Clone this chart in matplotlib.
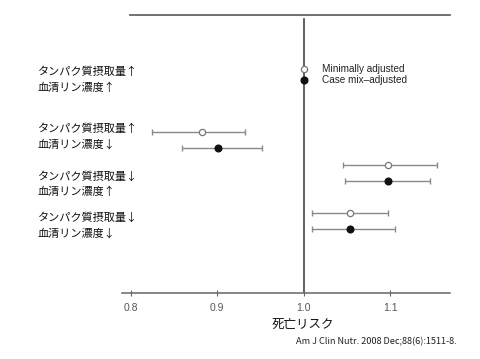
import matplotlib
matplotlib.use("Agg")
import matplotlib.pyplot as plt

plt.rcParams['font.family'] = ['Noto Sans CJK JP', 'DejaVu Sans']

groups = ["タンパク質摂取量↑\n血清リン濃度↑",
          "タンパク質摂取量↑\n血清リン濃度↓",
          "タンパク質摂取量↓\n血清リン濃度↑",
          "タンパク質摂取量↓\n血清リン濃度↓"]
# Minimally adjusted (open) : estimate, lower, upper
min_est = [1.0, 0.882, 1.097, 1.054]
min_lo = [None, 0.825, 1.045, 1.009]
min_hi = [None, 0.932, 1.154, 1.097]
# Case mix-adjusted (filled)
cm_est = [1.0, 0.901, 1.097, 1.054]
cm_lo = [None, 0.859, 1.048, 1.009]
cm_hi = [None, 0.952, 1.146, 1.106]
xticks = [0.8, 0.9, 1.0, 1.1]
xtick_labels = ["0.8", "0.9", "1.0", "1.1"]

# layout (vertical positions in axis units, 0 = top)
open_y = [54, 117, 150, 198]
fill_y = [65, 133, 166, 214]
label_y = [65, 122, 169, 210]

fig = plt.figure(figsize=(4.8, 3.59), dpi=100)
ax = fig.add_axes([122/480, 1-293/359, 328/480, 278/359])
ax.set_xlim(0.79, 1.169)
ax.set_ylim(278, 0)

gray = '#8a8a8a'
for i in range(len(groups)):
    if min_lo[i] is not None:
        ax.errorbar(min_est[i], open_y[i], xerr=[[min_est[i]-min_lo[i]], [min_hi[i]-min_est[i]]],
                    fmt='none', ecolor=gray, elinewidth=1, capsize=2.5, capthick=1, zorder=2)
        ax.errorbar(cm_est[i], fill_y[i], xerr=[[cm_est[i]-cm_lo[i]], [cm_hi[i]-cm_est[i]]],
                    fmt='none', ecolor=gray, elinewidth=1, capsize=2.5, capthick=1, zorder=2)
    ax.plot(min_est[i], open_y[i], 'o', ms=4.5, mfc='white', mec='#777777', mew=0.9, zorder=4)
    ax.plot(cm_est[i], fill_y[i], 'o', ms=4.8, mfc='#111111', mec='#111111', zorder=4)

# reference line at 1.0
ax.axvline(1.0, ymin=0, ymax=(293-19)/278, color='#555555', lw=1.3, zorder=1)
# top line
ax.plot([(130-122)/328, 1.0], [1.0, 1.0], transform=ax.transAxes, color='#666666', lw=1.3, clip_on=False)

for s in ['top', 'right', 'left']:
    ax.spines[s].set_visible(False)
ax.spines['bottom'].set_color('#666666')
ax.spines['bottom'].set_linewidth(1.1)
ax.set_yticks([])
ax.set_xticks(xticks)
ax.set_xticklabels(xtick_labels, fontsize=7.5, color='#555555', family=['Liberation Sans'])
ax.tick_params(axis='x', direction='inout', length=4, width=0.8, color='#666666', pad=5)

# legend text
ax.text(1.021, open_y[0], "Minimally adjusted", fontsize=7.2, va='center', ha='left',
        color='#222222', family=['Liberation Sans'])
ax.text(1.021, fill_y[0], "Case mix–adjusted", fontsize=7.2, va='center', ha='left',
        color='#222222', family=['Liberation Sans'])

for g, y in zip(groups, label_y):
    fig.text(38/480, 1-(15+y)/359, g, fontsize=8, va='center', ha='left', color='#111111',
             linespacing=1.65)

fig.text(303/480, 1-324/359, "死亡リスク", fontsize=9, ha='center', va='center', color='#111111')
fig.text(457/480, 1-342/359, "Am J Clin Nutr. 2008 Dec;88(6):1511-8.", fontsize=6.6,
         ha='right', va='center', color='#222222')

fig.savefig("out.png", dpi=100)
